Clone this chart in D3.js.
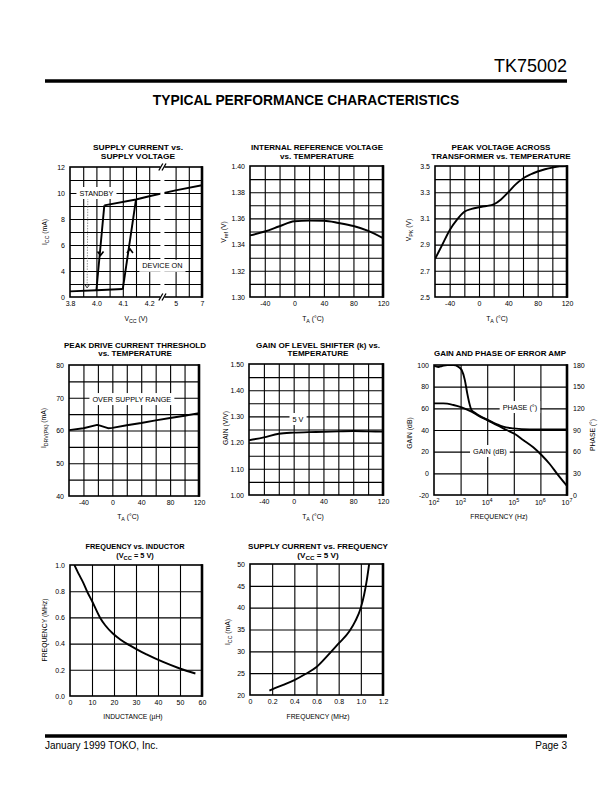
<!DOCTYPE html>
<html><head><meta charset="utf-8">
<script src="https://cdn.jsdelivr.net/npm/d3@7"></script>
<style>body{margin:0;background:#fff}svg{display:block}</style>
</head><body><svg id="c" width="612" height="792"></svg>
<script>
// ---------------- DATA ----------------
// Chart 1: Supply current vs supply voltage (hysteresis)
const c1Bottom = [[3.8,0.87],[4.0,1.03],[4.1,1.23]];
const c1Down = [[4.0,1.03],[4.03,9.05]];
const c1Up = [[4.1,1.23],[4.15,9.5]];
const c1Top = [[4.03,9.05],[4.15,9.5],[4.2,9.75],[5,10.2],[7,10.6]];
const c1XTicks = [3.8,4.0,4.1,4.2,5,7];
const c1YTicks = [0,4,6,8,10,12];
// Chart 2: Internal reference voltage vs temperature
const c2Data = [[-60,1.347],[-40,1.350],[-20,1.354],[0,1.3578],[20,1.3583],[40,1.3582],[60,1.3565],[80,1.3542],[100,1.3505],[120,1.345]];
const tempTicks = [-40,0,40,80,120];
const c2YTicks = [1.30,1.32,1.34,1.36,1.38,1.40];
// Chart 3: Peak voltage across transformer vs temperature
const c3Data = [[-60,2.79],[-50,2.90],[-40,3.01],[-30,3.09],[-20,3.15],[-10,3.172],[0,3.185],[10,3.195],[20,3.207],[30,3.245],[40,3.30],[50,3.36],[60,3.405],[70,3.435],[80,3.458],[90,3.475],[100,3.488],[110,3.497],[120,3.50]];
const c3YTicks = [2.5,2.7,2.9,3.1,3.3,3.5];
// Chart 4: Peak drive current threshold vs temperature
const c4Data = [[-60,60.1],[-40,60.7],[-21,61.7],[-17,61.5],[-6,60.7],[0,60.8],[20,61.6],[40,62.3],[60,63.1],[80,63.8],[100,64.5],[120,65.3]];
const c4YTicks = [40,50,60,70,80];
// Chart 5: Gain of level shifter vs temperature
const c5Data = [[-60,1.209],[-40,1.220],[-20,1.234],[0,1.238],[20,1.240],[40,1.241],[60,1.243],[80,1.244],[100,1.243],[120,1.242]];
const c5YTicks = [1.00,1.10,1.20,1.30,1.40,1.50];
// Chart 6: Gain and phase of error amp (x = log10 of frequency)
const c6PhaseExp = [2.0,2.16,2.3,2.5,2.73,2.91,3.04,3.16,3.25,3.33,3.41,3.54,3.73,4.04,4.35,4.6,4.98,5.6,6.3,7.0];
const c6Phase = [179,177.3,178.5,180,180,177.7,173,159,140.7,126.9,117.7,114,109.4,103.8,98.3,94.6,92.3,90.9,90.9,90.9];
const c6GainExp = [2.0,2.35,2.73,3.04,3.41,3.73,4.04,4.35,4.73,5.04,5.35,5.73,6.04,6.35,6.66,7.0];
const c6Gain = [64.6,64.6,63.1,60.9,56.9,52.3,48.6,44.6,40,36.3,30.8,24,16.9,8.6,-1.5,-11.7];
const c6XTicks = [2,3,4,5,6,7];
const c6YTicks = [-20,0,20,40,60,80,100];
const c6PTicks = [0,30,60,90,120,150,180];
// Chart 7: Frequency vs inductor
const c7Data = [[2,1.0],[4,0.93],[6,0.866],[8,0.79],[10,0.725],[13.6,0.60],[16,0.54],[19.6,0.475],[23,0.43],[27.2,0.386],[31,0.35],[34.8,0.318],[42.3,0.26],[49.9,0.21],[57,0.172]];
const c7XTicks = [0,10,20,30,40,50,60];
const c7YTicks = [0,0.2,0.4,0.6,0.8,1.0];
// Chart 8: Supply current vs frequency
const c8Data = [[0.175,21.0],[0.2,21.3],[0.3,22.3],[0.4,23.4],[0.5,24.8],[0.6,26.4],[0.7,29.0],[0.8,31.8],[0.9,34.7],[0.95,36.9],[1.0,40.0],[1.03,43],[1.055,46.5],[1.075,50]];
const c8XTicks = [0,0.2,0.4,0.6,0.8,1.0,1.2];
const c8YTicks = [20,25,30,35,40,45,50];

// ---------------- DRAWING ----------------
const svg = d3.select('#c');
const FONT = "'Liberation Sans', Arial, Helvetica, sans-serif";
const TSIZE = 8, TGAP = 8.6;

function rich(sel, parts, size) {
  let shift = 0;
  parts.forEach(p => {
    const t = typeof p === 'string' ? [p, null] : p;
    const target = t[1] === 'sub' ? size*0.3 : t[1] === 'sup' ? -size*0.4 : 0;
    const ts = sel.append('tspan').text(t[0]).attr('dy', target - shift);
    if (t[1]) ts.attr('font-size', size*0.78);
    shift = target;
  });
}

function label(g, x, y, txt, size, bg) {
  const t = g.append('text').attr('x', x).attr('y', y).attr('text-anchor','middle')
    .attr('dominant-baseline','central').attr('font-family', FONT).attr('font-size', size).attr('fill','#000').text(txt);
  if (bg) {
    const bb = t.node().getBBox();
    g.insert('rect', () => t.node()).attr('x', bb.x-3).attr('y', bb.y-1.5)
      .attr('width', bb.width+6).attr('height', bb.height+3).attr('fill','#fff');
  }
  return t;
}

let clipId = 0;
function panel(o) {
  const {l,r,t,b} = o.box;
  const g = svg.append('g');
  const xs = o.xs || d3.scaleLinear().domain(o.xDomain).range([l,r]);
  const ys = o.ys || d3.scaleLinear().domain(o.yDomain).range([b,t]);
  // grid
  const gx = g.append('g').attr('transform', `translate(0,${b})`)
    .call(d3.axisBottom(xs).tickValues(o.xGrid).tickSize(-(b-t)).tickFormat(''));
  gx.select('.domain').remove();
  const gy = g.append('g').attr('transform', `translate(${l},0)`)
    .call(d3.axisLeft(ys).tickValues(o.yGrid).tickSize(-(r-l)).tickFormat(''));
  gy.select('.domain').remove();
  g.selectAll('.tick line').attr('stroke','#000').attr('stroke-width',1.1);
  // tick labels
  const ax = g.append('g').attr('transform', `translate(0,${b})`)
    .call(d3.axisBottom(xs).tickValues(o.xTicks).tickSize(0).tickPadding(4).tickFormat(o.xFmt));
  ax.select('.domain').remove();
  const ay = g.append('g').attr('transform', `translate(${l},0)`)
    .call(d3.axisLeft(ys).tickValues(o.yTicks).tickSize(0).tickPadding(5).tickFormat(o.yFmt));
  ay.select('.domain').remove();
  [ax, ay].forEach(a => a.attr('font-family', FONT).attr('font-size', 7).selectAll('text').attr('fill','#000'));
  // clip
  const id = 'clip' + (clipId++);
  g.append('clipPath').attr('id', id).append('rect').attr('x', l).attr('y', t).attr('width', r-l).attr('height', b-t);
  const plot = g.append('g').attr('clip-path', `url(#${id})`);
  // titles: condensed bold; compression factor taken from the first line's reference width
  let k = 1;
  o.title.forEach((line, i) => {
    const tt = g.append('text').attr('x', o.titleX).attr('y', o.titleY + i*TGAP)
      .attr('text-anchor','middle').attr('font-family', FONT).attr('font-weight','bold')
      .attr('font-size', TSIZE).attr('fill','#000');
    rich(tt, line, TSIZE);
    const nat = tt.node().getComputedTextLength();
    if (i === 0) k = o.titleW / nat;
    tt.attr('textLength', nat * k).attr('lengthAdjust','spacingAndGlyphs');
  });
  // axis titles
  const xt = g.append('text').attr('x', o.xT[0]).attr('y', o.xT[1]).attr('text-anchor','middle')
    .attr('font-family', FONT).attr('font-size', 6.8).attr('fill','#000');
  rich(xt, o.xTitle, 6.8);
  const yt = g.append('text').attr('transform', `translate(${o.yT[0]+2.5},${o.yT[1]}) rotate(-90)`).attr('text-anchor','middle')
    .attr('font-family', FONT).attr('font-size', 6.8).attr('fill','#000');
  rich(yt, o.yTitle, 6.8);
  return {g, plot, xs, ys, frame: () => {
    g.append('rect').attr('x', l).attr('y', t).attr('width', r-l).attr('height', b-t)
      .attr('fill','none').attr('stroke','#000').attr('stroke-width',1.6);
    g.append('line').attr('x1', r).attr('x2', r).attr('y1', t-0.8).attr('y2', b+0.8).attr('stroke','#000').attr('stroke-width',2.6);
  }};
}

function curve(p, data, xf, yf, smooth) {
  const line = d3.line().x(d => p.xs(xf(d))).y(d => p.ys(yf(d)));
  if (smooth) line.curve(d3.curveMonotoneX);
  return p.plot.append('path').datum(data).attr('d', line).attr('fill','none')
    .attr('stroke','#000').attr('stroke-width',1.9).attr('stroke-linejoin','round');
}
const X = d => d[0], Y = d => d[1];
const TA = ['T', ['A','sub'], ' (°C)'];
const f2 = d3.format('.2f'), f1 = d3.format('.1f');

// ---------- Header ----------
svg.append('text').attr('x', 567).attr('y', 72).attr('text-anchor','end').attr('font-family', FONT)
  .attr('font-size', 18).text('TK75002');
svg.append('line').attr('x1', 45).attr('x2', 567).attr('y1', 81).attr('y2', 81).attr('stroke','#000').attr('stroke-width', 3.6);
svg.append('text').attr('x', 306).attr('y', 105).attr('text-anchor','middle').attr('font-family', FONT)
  .attr('font-weight','bold').attr('font-size', 13.8).text('TYPICAL PERFORMANCE CHARACTERISTICS');
svg.append('line').attr('x1', 45).attr('x2', 567).attr('y1', 736).attr('y2', 736).attr('stroke','#000').attr('stroke-width', 3.6);
svg.append('text').attr('x', 45).attr('y', 749).attr('font-family', FONT).attr('font-size', 10).text('January 1999 TOKO, Inc.');
svg.append('text').attr('x', 567).attr('y', 749).attr('text-anchor','end').attr('font-family', FONT).attr('font-size', 10).text('Page 3');

// ---------- Chart 1 ----------
{
  const box = {l:70, r:202, t:167, b:297};
  const w = box.r - box.l, h = box.b - box.t;
  const xs = d3.scaleLinear().domain(c1XTicks).range(d3.range(6).map(i => box.l + i*w/5));
  const ys = d3.scaleLinear().domain([0,4,12]).range([box.b, box.b - h*0.2, box.t]);
  const p = panel({box, xs, ys, xGrid:[3.9,4.0,4.05,4.1,4.15,4.2,4.6,5,6], yGrid:[2,4,5,6,7,8,9,10,11],
    xTicks:c1XTicks, yTicks:c1YTicks, xFmt: d => d < 5 ? f1(d) : String(d), yFmt: d => String(d),
    title:[['SUPPLY CURRENT vs.'],['SUPPLY VOLTAGE']], titleW:90, titleX:138, titleY:150,
    xTitle:['V',['CC','sub'],' (V)'], xT:[136,320.5], yTitle:['I',['CC','sub'],' (mA)'], yT:[44,232]});
  [c1Bottom, c1Down, c1Up, c1Top].forEach(d => curve(p, d, X, Y, false));
  // direction arrows
  const arrow = (seg, yv, dir) => {
    const [a, b2] = seg;
    const xv = a[0] + (b2[0]-a[0]) * (yv-a[1])/(b2[1]-a[1]);
    const cx = xs(xv), cy = ys(yv);
    p.plot.append('path').attr('d', `M${cx-3},${cy-4*dir} L${cx},${cy} L${cx+3},${cy-4*dir}`)
      .attr('fill','none').attr('stroke','#000').attr('stroke-width',1.6);
  };
  arrow(c1Down, 5.2, 1);
  arrow(c1Up, 5.7, -1);
  // axis break gap inside the plot
  const bx = xs(4.6);
  p.plot.append('rect').attr('x', bx-2).attr('y', box.t).attr('width', 4).attr('height', h).attr('fill','#fff');
  // standby dotted arrow
  p.plot.append('line').attr('x1', xs(3.935)).attr('x2', xs(3.93)).attr('y1', ys(9.6)).attr('y2', ys(1.4))
    .attr('stroke','#777').attr('stroke-width',0.8).attr('stroke-dasharray','1.5,1.2');
  p.plot.append('path').attr('d', `M${xs(3.93)-2.5},${ys(1.4)-3.5} L${xs(3.93)},${ys(1.4)} L${xs(3.93)+2.5},${ys(1.4)-3.5}`)
    .attr('fill','none').attr('stroke','#333').attr('stroke-width',1);
  label(p.plot, xs(4.0), ys(10), 'STANDBY', 7.3, true);
  label(p.plot, xs(4.6), ys(4.4), 'DEVICE ON', 7.3, true);
  p.frame();
  // break marks on the frame
  [box.t, box.b].forEach(yy => {
    p.g.append('rect').attr('x', bx-2).attr('y', yy-2).attr('width', 4).attr('height', 4).attr('fill','#fff');
    [-1.6, 1.6].forEach(dx => p.g.append('line').attr('x1', bx+dx-2).attr('x2', bx+dx+2)
      .attr('y1', yy+3.5).attr('y2', yy-3.5).attr('stroke','#000').attr('stroke-width',1.3));
  });
}

// ---------- Chart 2 ----------
{
  const p = panel({box:{l:250,r:383,t:166,b:297}, xDomain:[-60,120], yDomain:[1.30,1.40],
    xGrid:d3.range(-40,120,20), yGrid:d3.range(1,10).map(i => 1.30 + i*0.01),
    xTicks:tempTicks, yTicks:c2YTicks, xFmt:String, yFmt:f2,
    title:[['INTERNAL REFERENCE VOLTAGE'],['vs. TEMPERATURE']], titleW:132, titleX:317, titleY:150,
    xTitle:TA, xT:[313,320.5], yTitle:['V',['ref','sub'],' (V)'], yT:[223,232]});
  curve(p, c2Data, X, Y, true);
  p.frame();
}

// ---------- Chart 3 ----------
{
  const p = panel({box:{l:435,r:567,t:166,b:297}, xDomain:[-60,120], yDomain:[2.5,3.5],
    xGrid:d3.range(-40,120,20), yGrid:d3.range(1,10).map(i => 2.5 + i*0.1),
    xTicks:tempTicks, yTicks:c3YTicks, xFmt:String, yFmt:f1,
    title:[['PEAK VOLTAGE ACROSS'],['TRANSFORMER vs. TEMPERATURE']], titleW:99, titleX:501, titleY:150,
    xTitle:TA, xT:[497,320.5], yTitle:['V',['PK','sub'],' (V)'], yT:[408,230]});
  curve(p, c3Data, X, Y, true);
  p.frame();
}

// ---------- Chart 4 ----------
{
  const p = panel({box:{l:69,r:199,t:365,b:496}, xDomain:[-60,120], yDomain:[40,80],
    xGrid:d3.range(-40,120,20), yGrid:d3.range(45,80,5),
    xTicks:tempTicks, yTicks:c4YTicks, xFmt:String, yFmt:String,
    title:[['PEAK DRIVE CURRENT THRESHOLD'],['vs. TEMPERATURE']], titleW:142, titleX:135, titleY:347.5,
    xTitle:TA, xT:[128,518.5], yTitle:['I',['DRV(PK)','sub'],' (mA)'], yT:[43,428]});
  label(p.plot, p.xs(27), p.ys(69.6), 'OVER SUPPLY RANGE', 7.3, true);
  curve(p, c4Data, X, Y, false);
  p.frame();
}

// ---------- Chart 5 ----------
{
  const p = panel({box:{l:249,r:383,t:364,b:495}, xDomain:[-60,120], yDomain:[1.0,1.5],
    xGrid:d3.range(-40,120,20), yGrid:d3.range(1,10).map(i => 1.0 + i*0.05),
    xTicks:tempTicks, yTicks:c5YTicks, xFmt:String, yFmt:f2,
    title:[['GAIN OF LEVEL SHIFTER (k) vs.'],['TEMPERATURE']], titleW:124, titleX:318, titleY:347.5,
    xTitle:TA, xT:[313,518.5], yTitle:['GAIN (V/V)'], yT:[225,428]});
  label(p.plot, p.xs(5.8), p.ys(1.29), '5 V', 7.3, true);
  curve(p, c5Data, X, Y, true);
  p.frame();
}

// ---------- Chart 6 ----------
{
  const box = {l:434, r:567, t:365, b:495};
  const xs = d3.scaleLog().domain([1e2,1e7]).range([box.l, box.r]);
  const ys = d3.scaleLinear().domain([-20,100]).range([box.b, box.t]);
  const yp = d3.scaleLinear().domain([0,180]).range([box.b, box.t]);
  const p = panel({box, xs, ys, xGrid:[1e3,1e4,1e5,1e6], yGrid:[0,20,40,60,80],
    xTicks:c6XTicks.map(e => Math.pow(10,e)), yTicks:c6YTicks, xFmt:() => '', yFmt:String,
    title:[['GAIN AND PHASE OF ERROR AMP']], titleW:132, titleX:500, titleY:356,
    xTitle:['FREQUENCY (Hz)'], xT:[499,518.5], yTitle:['GAIN (dB)'], yT:[409,433]});
  // x tick labels with superscripts
  c6XTicks.forEach(e => {
    const t = p.g.append('text').attr('x', xs(Math.pow(10,e))).attr('y', box.b + 10).attr('text-anchor','middle')
      .attr('font-family', FONT).attr('font-size', 7).attr('fill','#000');
    rich(t, ['10', [String(e), 'sup']], 7);
  });
  // right axis
  const ar = p.g.append('g').attr('transform', `translate(${box.r},0)`)
    .call(d3.axisRight(yp).tickValues(c6PTicks).tickSize(0).tickPadding(6).tickFormat(String));
  ar.select('.domain').remove();
  ar.attr('font-family', FONT).attr('font-size', 7).selectAll('text').attr('fill','#000');
  const rt = p.g.append('text').attr('transform', `translate(${592+2.5},435) rotate(-90)`).attr('text-anchor','middle')
    .attr('font-family', FONT).attr('font-size', 6.8).attr('fill','#000');
  rich(rt, ['PHASE (°)'], 6.8);
  label(p.plot, xs(Math.pow(10,5.23)), ys(61.2), 'PHASE (°)', 7.3, true);
  label(p.plot, xs(Math.pow(10,4.1)), ys(20.6), 'GAIN (dB)', 7.3, true);
  const gainData = c6GainExp.map((e,i) => [Math.pow(10,e), c6Gain[i]]);
  const phaseData = c6PhaseExp.map((e,i) => [Math.pow(10,e), c6Phase[i]]);
  curve(p, gainData, X, Y, true);
  p.plot.append('path').datum(phaseData)
    .attr('d', d3.line().x(d => xs(d[0])).y(d => yp(d[1])).curve(d3.curveMonotoneX))
    .attr('fill','none').attr('stroke','#000').attr('stroke-width',1.9);
  p.frame();
}

// ---------- Chart 7 ----------
{
  const p = panel({box:{l:70,r:202,t:565,b:696}, xDomain:[0,60], yDomain:[0,1],
    xGrid:[10,20,30,40,50], yGrid:[0.2,0.4,0.6,0.8],
    xTicks:c7XTicks, yTicks:c7YTicks, xFmt:String, yFmt:f1,
    title:[['FREQUENCY vs. INDUCTOR'],['(V',['CC','sub'],' = 5 V)']], titleW:99, titleX:135, titleY:549,
    xTitle:['INDUCTANCE (µH)'], xT:[133,719], yTitle:['FREQUENCY (MHz)'], yT:[44,630]});
  curve(p, c7Data, X, Y, true);
  p.frame();
}

// ---------- Chart 8 ----------
{
  const p = panel({box:{l:250,r:383,t:564,b:695}, xDomain:[0,1.2], yDomain:[20,50],
    xGrid:[0.2,0.4,0.6,0.8,1.0], yGrid:[25,30,35,40,45],
    xTicks:c8XTicks, yTicks:c8YTicks, xFmt: d => d === 0 ? '0' : f1(d), yFmt:String,
    title:[['SUPPLY CURRENT vs. FREQUENCY'],['(V',['CC','sub'],' = 5 V)']], titleW:140, titleX:318, titleY:549,
    xTitle:['FREQUENCY (MHz)'], xT:[318,719], yTitle:['I',['CC','sub'],' (mA)'], yT:[227,632]});
  curve(p, c8Data, X, Y, true);
  p.frame();
}
</script>
</body></html>
